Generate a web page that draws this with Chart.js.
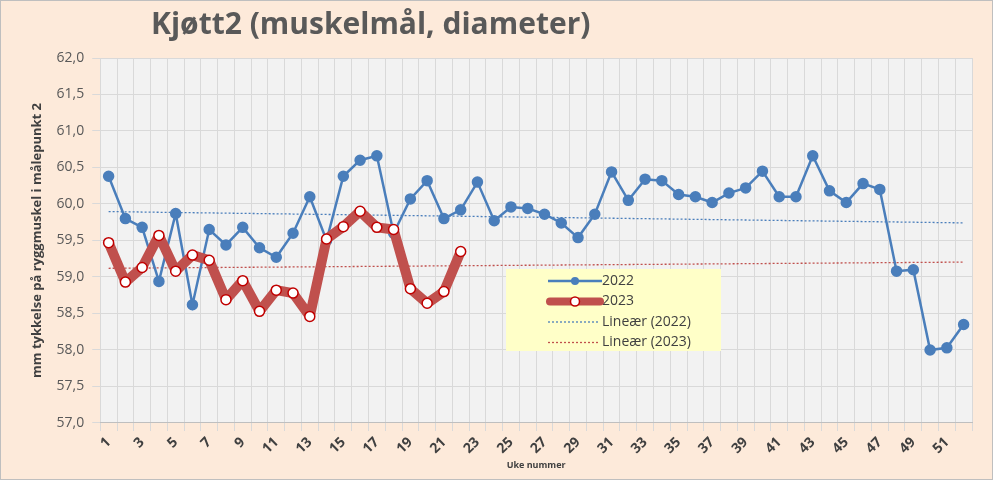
<!DOCTYPE html>
<html><head><meta charset="utf-8">
<script src="https://cdn.jsdelivr.net/npm/chart.js@4"></script>
<style>html,body{margin:0;padding:0;background:#fdeada;}#w{position:relative;width:993px;height:480px;box-sizing:border-box;border:1px solid #bfbfbf;}</style>
</head><body><div id="w"><canvas id="c" width="991" height="478"></canvas></div>
<script>
const weeks = Array.from({length:52},(_,i)=>String(i+1));
const v2022 = [60.38,59.8,59.68,58.94,59.87,58.62,59.65,59.44,59.68,59.40,59.27,59.6,60.1,59.5,60.38,60.6,60.66,59.6,60.07,60.32,59.8,59.92,60.3,59.77,59.96,59.94,59.86,59.74,59.54,59.86,60.44,60.05,60.34,60.32,60.13,60.1,60.02,60.15,60.22,60.45,60.1,60.1,60.66,60.18,60.02,60.28,60.2,59.08,59.1,58.0,58.03,58.35];
const v2023 = [59.47,58.93,59.13,59.57,59.08,59.3,59.23,58.69,58.95,58.53,58.82,58.78,58.46,59.52,59.69,59.9,59.68,59.65,58.84,58.64,58.8,59.35];
function trend(v,n){const m=v.length;let sx=0,sy=0,sxx=0,sxy=0;v.forEach((y,i)=>{const x=i+1;sx+=x;sy+=y;sxx+=x*x;sxy+=x*y;});const b=(m*sxy-sx*sy)/(m*sxx-sx*sx),a=(sy-b*sx)/m;return Array.from({length:n},(_,i)=>a+b*(i+1));}
const bgPlugin={id:'bg',beforeDraw(ch){const a=ch.chartArea,c=ch.ctx;c.save();c.fillStyle='#f2f2f2';c.fillRect(a.left,a.top,a.right-a.left,a.bottom-a.top);
c.font='bold 30px "Open Sans", sans-serif';c.fillStyle='#595959';c.textBaseline='middle';c.fillText('Kjøtt2 (muskelmål, diameter)',150,24);c.restore();},
afterDraw(ch){const c=ch.ctx;c.save();const x=505,y=268;c.fillStyle='#ffffc8';c.fillRect(x,y,215,82);
c.font='14px "Open Sans", sans-serif';c.textBaseline='middle';c.fillStyle='#404040';
const rows=[['2022'],['2023'],['Lineær (2022)'],['Lineær (2023)']];
rows.forEach((r,i)=>{const yy=y+12+i*20.5;c.fillText(r[0],x+96,yy);});
let yy=y+12;c.strokeStyle='#4a7ebb';c.lineWidth=2.5;c.beginPath();c.moveTo(x+42,yy);c.lineTo(x+96,yy);c.stroke();c.fillStyle='#4a7ebb';c.beginPath();c.arc(x+69,yy,4,0,7);c.fill();
yy+=20.5;c.strokeStyle='#c0504d';c.lineWidth=8;c.lineCap='round';c.beginPath();c.moveTo(x+44,yy);c.lineTo(x+94,yy);c.stroke();c.lineCap='butt';c.fillStyle='#fff';c.strokeStyle='#c00000';c.lineWidth=1.5;c.beginPath();c.arc(x+69,yy,4.5,0,7);c.fill();c.stroke();
c.setLineDash([2,2]);c.lineWidth=1.3;yy+=20.5;c.strokeStyle='#4a7ebb';c.beginPath();c.moveTo(x+42,yy);c.lineTo(x+94,yy);c.stroke();
yy+=20.5;c.strokeStyle='#c0504d';c.beginPath();c.moveTo(x+42,yy);c.lineTo(x+94,yy);c.stroke();c.restore();}};
new Chart(document.getElementById('c'),{type:'line',
data:{labels:weeks,datasets:[
{label:'Lineær (2023)',data:trend(v2023,52),borderColor:'#c0504d',borderWidth:1.3,borderDash:[2,2],pointRadius:0,order:4},
{label:'Lineær (2022)',data:trend(v2022,52),borderColor:'#4a7ebb',borderWidth:1.3,borderDash:[2,2],pointRadius:0,order:3},
{label:'2023',data:v2023,borderColor:'#c0504d',borderWidth:10,borderJoinStyle:'round',pointRadius:5,pointBackgroundColor:'#fff',pointBorderColor:'#c00000',pointBorderWidth:1.5,order:1},
{label:'2022',data:v2022,borderColor:'#4a7ebb',borderWidth:2.5,pointRadius:4.5,pointBackgroundColor:'#4a7ebb',pointBorderColor:'#4a7ebb',order:2}
]},
options:{responsive:false,animation:false,layout:{padding:{top:57,right:20,left:24,bottom:4}},
plugins:{legend:{display:false},tooltip:{enabled:false},title:{display:false}},
scales:{
x:{offset:true,grid:{color:'#d9d9d9',offset:true},border:{color:'#bfbfbf'},
ticks:{color:'#404040',font:{family:'"Open Sans", sans-serif',size:14,weight:'bold'},maxRotation:45,minRotation:45,autoSkip:false,callback:(v,i)=>i%2===0?weeks[i]:''},
title:{display:true,text:'Uke nummer',color:'#404040',font:{family:'"Open Sans", sans-serif',size:9,weight:'bold'},padding:{top:0}}},
y:{min:57,max:62,grid:{color:'#d9d9d9'},border:{display:false},
ticks:{stepSize:0.5,color:'#595959',font:{family:'"Open Sans", sans-serif',size:14},padding:8,callback:v=>v.toFixed(1).replace('.',',')},
title:{display:true,text:'mm tykkelse på ryggmuskel i målepunkt 2',color:'#404040',font:{family:'"Open Sans", sans-serif',size:13,weight:'bold'}}}}},
plugins:[bgPlugin]});
</script></body></html>
